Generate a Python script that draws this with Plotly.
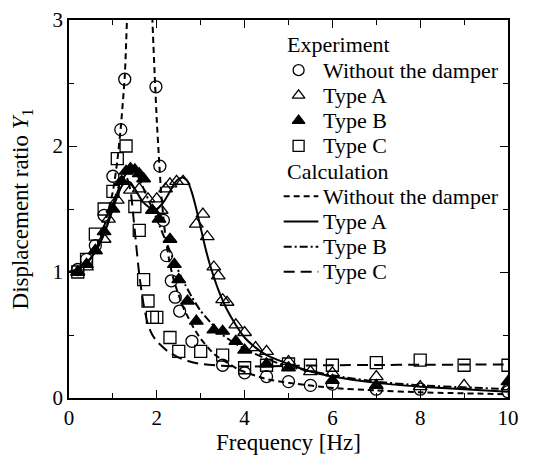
import plotly.graph_objects as go

# Experiment
f_wo = [0.2, 0.4, 0.6, 0.8, 1.0, 1.18, 1.27, 1.98, 2.07, 2.15, 2.22, 2.33, 2.42, 2.52, 2.8,
        3.5, 4.0, 4.5, 5.0, 5.5, 6.0, 7.0, 8.0, 10.0]
y_wo = [1.02, 1.1, 1.21, 1.45, 1.76, 2.13, 2.53, 2.47, 1.84, 1.41, 1.13, 0.93, 0.80, 0.69, 0.45,
        0.26, 0.20, 0.17, 0.13, 0.10, 0.11, 0.07, 0.07, 0.05]

f_a = [0.2, 0.4, 0.6, 0.8, 0.9, 1.1, 1.4, 1.6, 1.8, 2.0, 2.1, 2.2, 2.3, 2.45, 2.6, 2.9, 3.05,
       3.15, 3.3, 3.4, 3.5, 3.6, 3.8, 4.0, 4.25, 4.5, 5.0, 5.5, 6.0, 7.0, 8.0, 9.0, 10.0]
y_a = [1.0, 1.04, 1.17, 1.26, 1.42, 1.57, 1.65, 1.66, 1.58, 1.58, 1.49, 1.66, 1.70, 1.72, 1.72, 1.38, 1.46,
       1.28, 1.04, 0.97, 0.78, 0.76, 0.58, 0.52, 0.40, 0.37, 0.29, 0.21, 0.20, 0.17, 0.09, 0.10, 0.09]

f_b = [0.2, 0.4, 0.6, 0.8, 1.0, 1.2, 1.3, 1.4, 1.5, 1.6, 1.7, 1.9, 2.05, 2.3, 2.4, 2.5, 2.7,
       2.9, 3.3, 3.5, 3.8, 4.0, 4.5, 5.0, 6.0, 7.0, 10.0]
y_b = [1.0, 1.06, 1.17, 1.32, 1.5, 1.72, 1.8, 1.82, 1.81, 1.78, 1.74, 1.49, 1.42, 1.26, 1.06, 0.94, 0.77,
       0.61, 0.54, 0.53, 0.45, 0.38, 0.27, 0.24, 0.14, 0.10, 0.13]

f_c = [0.2, 0.4, 0.6, 0.8, 1.0, 1.1, 1.3, 1.5, 1.6, 1.7, 1.8, 1.9, 2.0, 2.3, 2.5, 3.0, 3.5,
       4.0, 4.5, 5.0, 5.5, 6.0, 7.0, 8.0, 9.0, 10.0]
y_c = [1.0, 1.1, 1.3, 1.5, 1.64, 1.9, 2.0, 1.52, 1.33, 0.94, 0.77, 0.64, 0.64, 0.48, 0.37, 0.37, 0.34,
       0.24, 0.26, 0.27, 0.26, 0.26, 0.28, 0.30, 0.26, 0.26]

# Calculation
fc_wo = [0, 0.2, 0.4, 0.6, 0.8, 1.0, 1.1, 1.18, 1.27, 1.32, 1.36, None,
         1.86, 1.9, 1.96, 2.0, 2.05, 2.1, 2.2, 2.3, 2.4, 2.6, 2.85, 3.0, 3.3, 3.6, 3.9,
         4.5, 5.0, 6.0, 7.0, 8.0, 10.0]
yc_wo = [1.0, 1.02, 1.07, 1.17, 1.36, 1.64, 1.88, 2.15, 2.55, 3.0, 3.5, None,
         3.5, 3.0, 2.5, 2.2, 1.9, 1.62, 1.27, 1.06, 0.92, 0.72, 0.55, 0.47, 0.35, 0.28, 0.22,
         0.15, 0.12, 0.08, 0.06, 0.045, 0.03]

fc_a = [0, 0.2, 0.4, 0.6, 0.8, 1.0, 1.1, 1.2, 1.3, 1.4, 1.5, 1.6, 1.7, 1.8, 1.9, 2.0, 2.1,
        2.2, 2.3, 2.4, 2.5, 2.6, 2.7, 2.8, 2.9, 3.0, 3.1, 3.2, 3.3, 3.4, 3.6, 3.8, 4.0, 4.25,
        4.5, 5.0, 5.5, 6.0, 7.0, 8.0, 9.0, 10.0]
yc_a = [1.0, 1.02, 1.07, 1.16, 1.3, 1.5, 1.6, 1.68, 1.72, 1.71, 1.66, 1.6, 1.55, 1.52, 1.5, 1.5, 1.53,
        1.58, 1.64, 1.7, 1.74, 1.75, 1.72, 1.63, 1.5, 1.35, 1.2, 1.07, 0.96, 0.86, 0.70, 0.58, 0.48, 0.40,
        0.34, 0.27, 0.21, 0.17, 0.12, 0.09, 0.07, 0.05]

fc_b = [0, 0.2, 0.4, 0.6, 0.8, 1.0, 1.1, 1.2, 1.3, 1.4, 1.5, 1.6, 1.7, 1.8, 1.9, 2.0, 2.2,
        2.4, 2.6, 2.8, 3.0, 3.25, 3.5, 3.75, 4.0, 4.5, 5.0, 6.0, 7.0, 8.0, 9.0, 10.0]
yc_b = [1.0, 1.02, 1.07, 1.16, 1.31, 1.52, 1.63, 1.72, 1.78, 1.8, 1.79, 1.74, 1.66, 1.58, 1.5, 1.42, 1.25,
        1.08, 0.93, 0.8, 0.69, 0.59, 0.5, 0.44, 0.39, 0.31, 0.25, 0.18, 0.13, 0.10, 0.085, 0.07]

fc_c = [0, 0.2, 0.4, 0.6, 0.8, 1.0, 1.1, 1.2, 1.3, 1.4, 1.5, 1.6, 1.7, 1.8, 1.9, 2.0, 2.25,
        2.5, 2.75, 3.0, 3.5, 4.0, 5.0, 6.0, 7.0, 8.0, 9.0, 10.0]
yc_c = [1.0, 1.02, 1.07, 1.16, 1.31, 1.53, 1.65, 1.73, 1.76, 1.65, 1.32, 0.98, 0.74, 0.58, 0.5, 0.45, 0.37,
        0.32, 0.29, 0.27, 0.255, 0.25, 0.255, 0.26, 0.262, 0.264, 0.265, 0.265]

FONT = "Liberation Serif, Times New Roman, serif"
mk = dict(size=12, color="black", line=dict(width=1.3, color="black"))

fig = go.Figure()

exp = [("Without the damper", f_wo, y_wo, "circle-open"),
       ("Type A", f_a, y_a, "triangle-up-open"),
       ("Type B", f_b, y_b, "triangle-up"),
       ("Type C", f_c, y_c, "square-open")]
calc = [("Without the damper", fc_wo, yc_wo, "6px,4px"),
        ("Type A", fc_a, yc_a, "solid"),
        ("Type B", fc_b, yc_b, "8px,3px,2px,3px"),
        ("Type C", fc_c, yc_c, "11px,6px")]

for name, x, y, sym in exp:
    fig.add_trace(go.Scatter(x=x, y=y, mode="markers", name=name, showlegend=False,
                             marker=dict(mk, symbol=sym)))
for name, x, y, dash in calc:
    fig.add_trace(go.Scatter(x=x, y=y, mode="lines", name=name, showlegend=False,
                             line=dict(color="black", width=2, dash=dash, shape="spline", smoothing=0.5)))

# legend box drawn on an overlay axis (0..1 across the plot area)
lx0, lsym, ltxt = 0.491, 0.523, 0.574
row_top, row_step = 0.934, 0.0667
rows = [row_top - i * row_step for i in range(10)]

fig.add_annotation(x=lx0, y=rows[0], text="Experiment")
for i, (name, _, _, sym) in enumerate(exp):
    r = rows[1 + i]
    fig.add_trace(go.Scatter(x=[lsym], y=[r], mode="markers", xaxis="x2", yaxis="y2",
                             showlegend=False, marker=dict(mk, size=11, symbol=sym)))
    fig.add_annotation(x=ltxt, y=r, text=name)
fig.add_annotation(x=lx0, y=rows[5], text="Calculation")
for i, (name, _, _, dash) in enumerate(calc):
    r = rows[6 + i]
    fig.add_trace(go.Scatter(x=[lx0 - 0.002, ltxt - 0.006], y=[r, r], mode="lines", xaxis="x2", yaxis="y2",
                             showlegend=False, line=dict(color="black", width=2, dash=dash)))
    fig.add_annotation(x=ltxt, y=r, text=name)

fig.update_annotations(xref="paper", yref="paper", xanchor="left", yanchor="middle", showarrow=False,
                       font=dict(family=FONT, size=22, color="black"))

ax = dict(showline=True, linecolor="black", linewidth=1.5, mirror="ticks", ticks="inside",
          tickcolor="black", ticklen=8, tickwidth=1.3, showgrid=False, zeroline=False,
          automargin=False, tickfont=dict(family=FONT, size=21, color="black"))

fig.update_layout(
    xaxis=dict(ax, range=[0, 10], dtick=2, tick0=0,
               minor=dict(ticks="inside", dtick=1, ticklen=5, tickcolor="black", tickwidth=1.3),
               title=dict(text="Frequency [Hz]", font=dict(family=FONT, size=23, color="black"), standoff=0)),
    yaxis=dict(ax, range=[0, 3], dtick=1, tick0=0,
               minor=dict(ticks="inside", dtick=0.5, ticklen=5, tickcolor="black", tickwidth=1.3),
               title=dict(text="Displacement ratio <i>Y</i><sub>1</sub>",
                          font=dict(family=FONT, size=23, color="black"), standoff=22)),
    xaxis2=dict(overlaying="x", range=[0, 1], visible=False, anchor="y2"),
    yaxis2=dict(overlaying="y", range=[0, 1], visible=False, anchor="x2"),
    width=531, height=449, margin=dict(l=61, r=31, t=12, b=59),
    plot_bgcolor="white", paper_bgcolor="white",
    font=dict(family=FONT, size=20, color="black"),
    showlegend=False)

fig.write_html("out.html")
